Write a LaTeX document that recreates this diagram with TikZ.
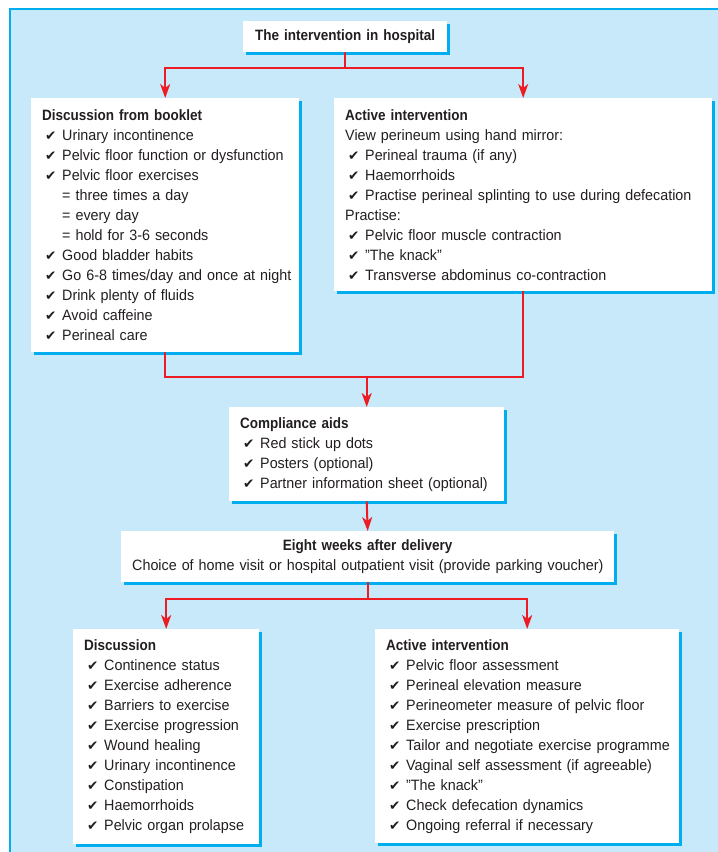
\documentclass[tikz,border=0pt]{standalone}
\usepackage{fontspec}
\setmainfont{Liberation Sans}[FakeStretch=0.955, BoldFeatures={FakeStretch=0.9}]
\newfontfamily\tickfont{DejaVu Sans}
\usepackage{tikz}
\usetikzlibrary{arrows.meta,shadows}

\definecolor{panelblue}{RGB}{199,233,249}
\definecolor{edgecyan}{RGB}{0,174,239}
\definecolor{linkred}{RGB}{237,28,36}
\definecolor{ink}{RGB}{35,31,32}

\newcommand{\head}[1]{\mbox{\bfseries #1}}
\newcommand{\itm}[1]{\hspace*{3pt}\makebox[17pt][l]{\tickfont\fontsize{13.5}{20}\selectfont\char"2714}\mbox{#1}}
\newcommand{\eqitm}[1]{\hspace*{20pt}\mbox{= #1}}

\tikzset{
  box/.style={fill=white, text=ink, anchor=north west, align=left,
    inner xsep=11pt, inner ysep=3pt, font=\fontsize{15}{20}\selectfont,
    drop shadow={shadow xshift=3pt, shadow yshift=-3pt, fill=edgecyan, opacity=1}},
  link/.style={draw=linkred, line width=2pt},
  arr/.style={link, -{Stealth[length=14pt,width=10pt,inset=4pt]}}
}

\begin{document}
\begin{tikzpicture}[x=1pt,y=-1pt]
\useasboundingbox (0,0) rectangle (718,852);
\fill[panelblue] (9,8) rectangle (724,858);
\draw[edgecyan, line width=2pt] (10,858) -- (10,9) -- (724,9);

\node[box, align=center, text width=182pt, minimum height=31pt] (hosp) at (243,21)
  {\head{The intervention in hospital}};

\node[box, text width=246pt, minimum height=254pt] (booklet) at (31,98) {%
  \head{Discussion from booklet}\\
  \itm{Urinary incontinence}\\
  \itm{Pelvic floor function or dysfunction}\\
  \itm{Pelvic floor exercises}\\
  \eqitm{three times a day}\\
  \eqitm{every day}\\
  \eqitm{hold for 3-6 seconds}\\
  \itm{Good bladder habits}\\
  \itm{Go 6-8 times/day and once at night}\\
  \itm{Drink plenty of fluids}\\
  \itm{Avoid caffeine}\\
  \itm{Perineal care}};

\node[box, text width=356pt, minimum height=193pt] (active) at (334,98) {%
  \head{Active intervention}\\
  \mbox{View perineum using hand mirror:}\\
  \itm{Perineal trauma (if any)}\\
  \itm{Haemorrhoids}\\
  \itm{Practise perineal splinting to use during defecation}\\
  \mbox{Practise:}\\
  \itm{Pelvic floor muscle contraction}\\
  \itm{"The knack"}\\
  \itm{Transverse abdominus co-contraction}};

\node[box, text width=253pt, minimum height=94pt] (aids) at (229,407) {%
  \head{Compliance aids}\\
  \itm{Red stick up dots}\\
  \itm{Posters (optional)}\\
  \itm{Partner information sheet (optional)}};

\node[box, align=center, text width=471pt, minimum height=51pt] (eight) at (121,531) {%
  \head{Eight weeks after delivery}\\
  \mbox{Choice of home visit or hospital outpatient visit (provide parking voucher)}};

\node[box, text width=164pt, minimum height=215pt] (talk) at (73,629) {%
  \head{Discussion}\\
  \itm{Continence status}\\
  \itm{Exercise adherence}\\
  \itm{Barriers to exercise}\\
  \itm{Exercise progression}\\
  \itm{Wound healing}\\
  \itm{Urinary incontinence}\\
  \itm{Constipation}\\
  \itm{Haemorrhoids}\\
  \itm{Pelvic organ prolapse}};

\node[box, text width=282pt, minimum height=214pt] (review) at (375,629) {%
  \head{Active intervention}\\
  \itm{Pelvic floor assessment}\\
  \itm{Perineal elevation measure}\\
  \itm{Perineometer measure of pelvic floor}\\
  \itm{Exercise prescription}\\
  \itm{Tailor and negotiate exercise programme}\\
  \itm{Vaginal self assessment (if agreeable)}\\
  \itm{"The knack"}\\
  \itm{Check defecation dynamics}\\
  \itm{Ongoing referral if necessary}};

\draw[arr] (hosp.south) -- ++(0,16) -| (booklet.north);
\draw[arr] (hosp.south) -- ++(0,16) -| (active.north);

\path (aids.north) ++(0,-30) coordinate (joinup);
\draw[link] (booklet.south) |- (joinup) -| (active.south);
\draw[arr] (joinup) -- (aids.north);

\draw[arr] (aids.south) -- (eight.north);

\path (eight.south) ++(0,17) coordinate (split);
\draw[link] (eight.south) -- (split);
\draw[arr] (split) -| (talk.north);
\draw[arr] (split) -| (review.north);
\end{tikzpicture}
\end{document}
